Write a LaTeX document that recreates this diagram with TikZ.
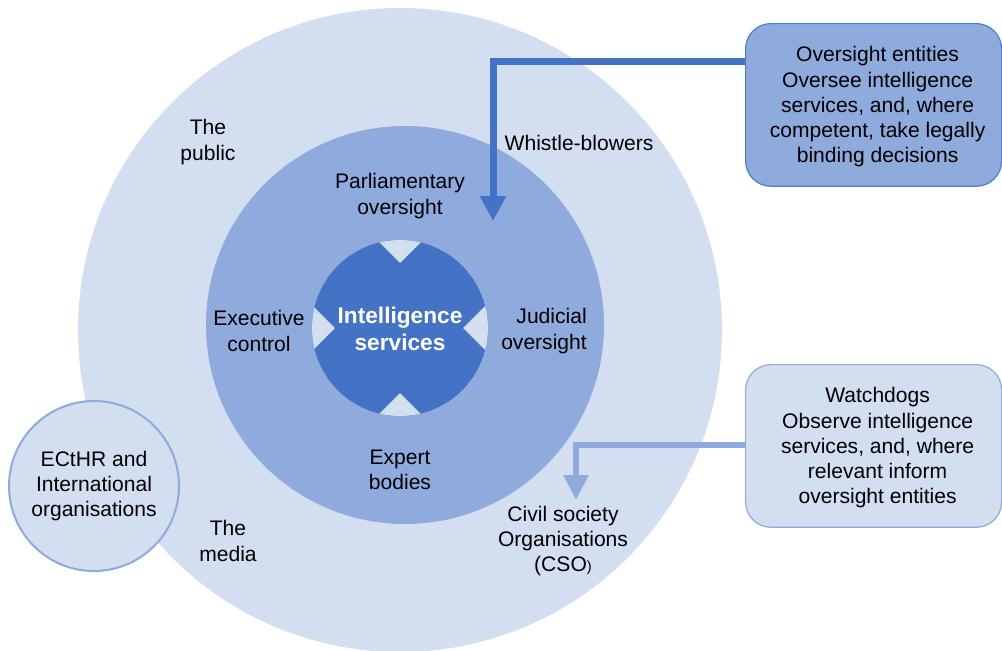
\documentclass[tikz,border=0pt]{standalone}
\usepackage{fontspec}
\setmainfont{Liberation Sans}
\usetikzlibrary{arrows.meta}
\definecolor{lightb}{HTML}{D3DEF0}
\definecolor{midb}{HTML}{8FAADC}
\definecolor{darkb}{HTML}{4472C4}
\tikzset{
  lbl/.style={align=center, font=\fontsize{15.8}{18.9}\selectfont, inner sep=0pt},
  boxshape/.style={rounded corners=19pt, minimum width=192pt, minimum height=122pt, inner sep=0pt, line width=0.9pt},
  arrA/.style={draw=darkb, line width=5.25pt, -{Triangle[width=18.75pt,length=18.75pt]}},
  arrB/.style={draw=midb, line width=4.5pt, -{Triangle[width=18pt,length=18.75pt]}}
}
\begin{document}
\begin{tikzpicture}[x=0.75pt,y=-0.75pt]
\useasboundingbox (0,0) rectangle (1002,650);
\clip (0,0) rectangle (1002,650);
% circles
\fill[lightb] (400,330) circle[radius=241.5pt];
\fill[midb] (405,325) circle[radius=149.25pt];
\begin{scope}
  \clip (400,328) circle[radius=66pt];
  \fill[darkb] (400,328) circle[radius=66pt];
  \fill[lightb] (400,263) -- (355,218) -- (445,218) -- cycle;
  \fill[lightb] (400,393) -- (355,438) -- (445,438) -- cycle;
  \fill[lightb] (335,328) -- (290,283) -- (290,373) -- cycle;
  \fill[lightb] (463,328) -- (508,283) -- (508,373) -- cycle;
\end{scope}
\node[lbl, text=white, font=\fontsize{17}{20.25}\selectfont\bfseries] (intel) at (400,329) {Intelligence\\services};
% ECtHR circle
\node[lbl, circle, fill=lightb, draw=midb, line width=1.5pt, minimum size=127.5pt] (ecthr) at (94,486) {ECtHR and\\International\\organisations};
% boxes
\node[boxshape, fill=midb, draw=darkb!80!midb, anchor=north west] (ovs) at (745,23) {};
\node[lbl] (ovstxt) at ([xshift=3pt,yshift=-1.5pt]ovs.center) {Oversight entities\\Oversee intelligence\\services, and, where\\competent, take legally\\binding decisions};
\node[boxshape, fill=lightb, draw=midb, anchor=north west] (watch) at (745,364) {};
\node[lbl] (watchtxt) at ([xshift=3pt,yshift=-1.5pt]watch.center) {Watchdogs\\Observe intelligence\\services, and, where\\relevant inform\\oversight entities};
% labels
\node[lbl] (public) at (208,142) {The\\public};
\node[lbl] (whistle) at (579,143) {Whistle-blowers};
\node[lbl] (parl) at (400,196) {Parliamentary\\oversight};
\node[lbl] (exec) at (259,331) {Executive\\control};
\node[lbl, align=right, anchor=east] (jud) at (587,331) {Judicial\\oversight};
\node[lbl] (expert) at (400,470) {Expert\\bodies};
\node[lbl] (media) at (228,541) {The\\media};
\node[lbl] (cso) at (563,541) {Civil society\\Organisations\\(CSO{\fontsize{11}{12}\selectfont)}};
% arrows
\coordinate (wcorner) at (493,61);
\coordinate (wtip) at (493,221);
\draw[arrA] (ovs.west |- wcorner) -- (wcorner) -- (wtip);
\coordinate (ccorner) at (576,445);
\coordinate (ctip) at (576,500);
\draw[arrB] (watch.west |- ccorner) -- (ccorner) -- (ctip);
\end{tikzpicture}
\end{document}
